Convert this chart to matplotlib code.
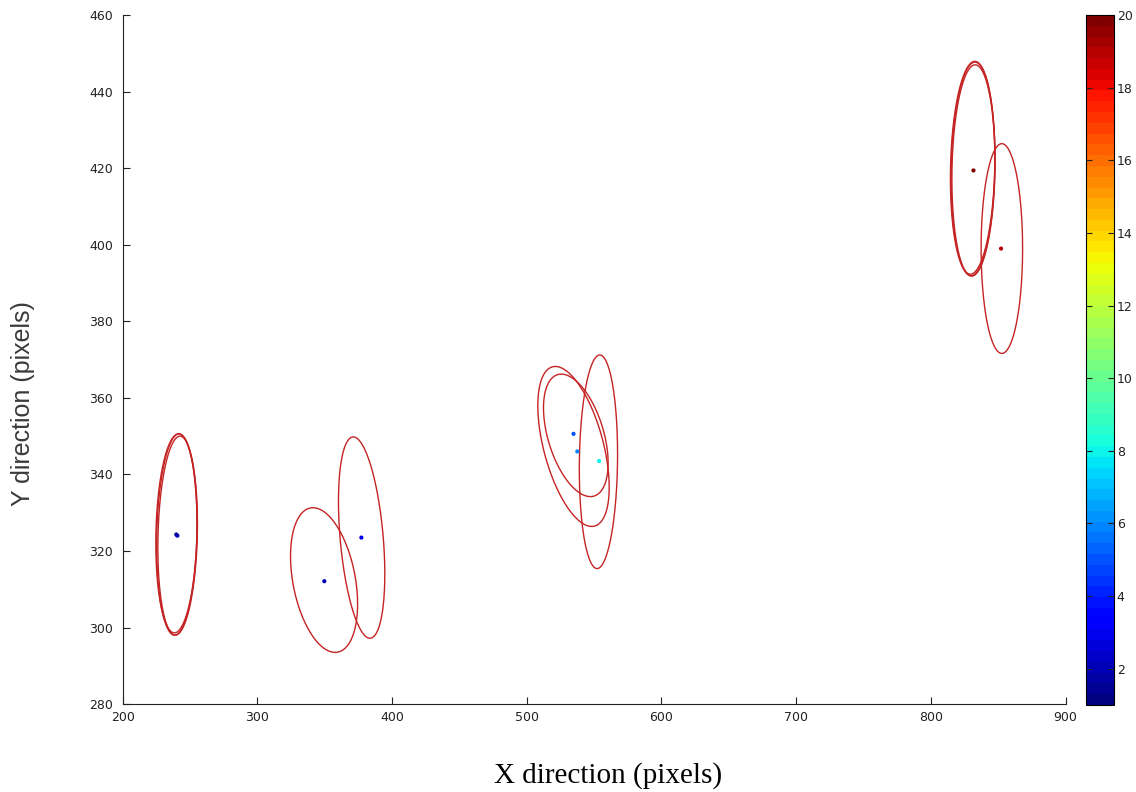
import numpy as np
import matplotlib
matplotlib.use("Agg")
from matplotlib import pyplot as plt

# track points: x, y (pixels) and frame index used for colour
pt_x = [239.8, 240.6, 349.7, 377.2, 534.7, 537.5, 553.7, 831.6, 852.1]
pt_y = [324.3, 324.0, 312.1, 323.5, 350.6, 346.0, 343.5, 419.4, 399.0]
pt_v = [1, 2, 2, 3, 5, 6, 8, 20, 19]

# error ellipses: centre, half extent in x / y, correlation
ell_cx = [240.2, 240.8, 239.9, 349.5, 377.4, 534.7, 536.4, 553.2, 831.3, 831.6, 831.0, 852.7]
ell_cy = [324.3, 324.0, 324.6, 312.4, 323.5, 347.3, 350.2, 343.3, 419.8, 419.4, 420.1, 399.0]
ell_sx = [15.0, 14.7, 15.3, 24.9, 17.2, 26.5, 24.0, 14.2, 16.3, 16.0, 16.5, 15.4]
ell_sy = [26.3, 26.0, 26.0, 18.9, 26.3, 20.9, 16.0, 27.9, 27.9, 27.6, 27.8, 27.4]
ell_rho = [0.11, 0.12, 0.10, -0.33, -0.36, -0.51, -0.45, 0.07, 0.09, 0.08, 0.10, 0.0]

x_ticks = [200, 300, 400, 500, 600, 700, 800, 900]
y_ticks = [280, 300, 320, 340, 360, 380, 400, 420, 440, 460]
cb_ticks = [2, 4, 6, 8, 10, 12, 14, 16, 18, 20]

fig = plt.figure(figsize=(11.36, 7.92), dpi=100)
ax = fig.add_axes([0.108, 0.111, 0.830, 0.870])

t = np.linspace(0, 2 * np.pi, 300)
for i in range(len(ell_cx)):
    r = ell_rho[i]
    ex = ell_cx[i] + ell_sx[i] * np.cos(t)
    ey = ell_cy[i] + ell_sy[i] * (r * np.cos(t) + np.sqrt(1 - r * r) * np.sin(t))
    ax.plot(ex, ey, color='#c42424', lw=1.0, solid_capstyle='butt')

cmap = plt.get_cmap('jet', 64)
sc = ax.scatter(pt_x, pt_y, c=pt_v, cmap=cmap, vmin=1, vmax=20, s=4, zorder=3)

ax.set_xlim(200, 900)
ax.set_ylim(280, 460)
ax.set_xticks(x_ticks)
ax.set_yticks(y_ticks)
ax.spines['top'].set_visible(False)
ax.spines['right'].set_visible(False)
ax.tick_params(direction='in', length=5, labelsize=9, colors='#222222')
ax.tick_params(axis='y', pad=7)
ax.tick_params(axis='x', pad=5)
for s in ['left', 'bottom']:
    ax.spines[s].set_color('#222222')
    ax.spines[s].set_linewidth(0.8)

fig.text(0.535, 0.012, 'X direction (pixels)', family='Liberation Serif',
         fontsize=21, ha='center', va='baseline')
fig.text(0.020, 0.49, 'Y direction (pixels)', family='Liberation Sans',
         fontsize=18, ha='center', va='center', rotation=90, color='#3a3a3a')

cax = fig.add_axes([0.956, 0.110, 0.0246, 0.871])
cb = fig.colorbar(sc, cax=cax)
cb.set_ticks(cb_ticks)
cax.tick_params(direction='in', length=4, labelsize=9, colors='#222222',
                left=True, right=True, pad=2)
cb.outline.set_linewidth(0.8)

fig.savefig('out.png', dpi=100)
